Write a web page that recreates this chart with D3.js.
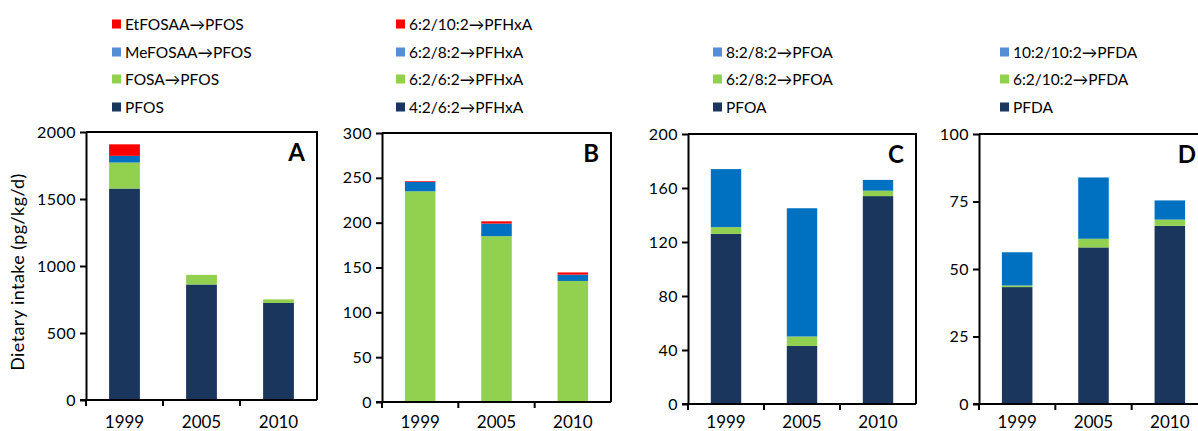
<!DOCTYPE html>
<html>
<head>
<meta charset="utf-8">
<script src="https://cdn.jsdelivr.net/npm/d3@7"></script>
<style>
  body { margin: 0; background: #fff; }
  text { font-family: Lato, "Open Sans", sans-serif; fill: #000; }
  .tick text { font-size: 16px; letter-spacing: 0.5px; }
  .axis path, .axis line { stroke: #000; stroke-width: 2px; }
</style>
</head>
<body>
<script>
// data
const years = ["1999", "2005", "2010"];

// panel A (bottom of stack first)
const seriesA = ["PFOS", "FOSA\u2192PFOS", "MeFOSAA\u2192PFOS", "EtFOSAA\u2192PFOS"];
const valuesA = [
  [1578, 862, 724],
  [194, 72, 27],
  [50, 0, 0],
  [86, 0, 0]
];

// panel B
const seriesB = ["4:2/6:2\u2192PFHxA", "6:2/6:2\u2192PFHxA", "6:2/8:2\u2192PFHxA", "6:2/10:2\u2192PFHxA"];
const valuesB = [
  [0, 0, 0],
  [235, 185, 135],
  [10.5, 14, 7],
  [0.8, 2.5, 2.5]
];

// panel C
const seriesC = ["PFOA", "6:2/8:2\u2192PFOA", "8:2/8:2\u2192PFOA"];
const valuesC = [
  [126, 43, 154],
  [5, 7, 4],
  [43, 95, 8]
];

// panel D
const seriesD = ["PFDA", "6:2/10:2\u2192PFDA", "10:2/10:2\u2192PFDA"];
const valuesD = [
  [43.3, 58, 66],
  [0.6, 3.2, 2.3],
  [12.3, 22.7, 7.1]
];

const yMaxes = [2000, 300, 200, 100];
const yTicks = [
  [0, 500, 1000, 1500, 2000],
  [0, 50, 100, 150, 200, 250, 300],
  [0, 40, 80, 120, 160, 200],
  [0, 25, 50, 75, 100]
];
const letters = ["A", "B", "C", "D"];

const barColors = ["#1b365d", "#92d050", "#0070c0", "#ff0000"];
const legendColors = ["#1b365d", "#92d050", "#558ed5", "#ff0000"];

// layout of the four panels
const panels = [
  {x: 86, w: 231, top: 132, bottom: 400, legX: 112},
  {x: 382, w: 229, top: 133, bottom: 402, legX: 396},
  {x: 688, w: 228, top: 134, bottom: 404, legX: 713},
  {x: 979, w: 229, top: 134, bottom: 404, legX: 1000}
];
const legendRows = [107, 79, 52, 24];
const yearBaseline = 428;

const allSeries = [seriesA, seriesB, seriesC, seriesD];
const allValues = [valuesA, valuesB, valuesC, valuesD];

const svg = d3.select("body").append("svg")
  .attr("width", 1198)
  .attr("height", 431);

panels.forEach(function (p, i) {
  const series = allSeries[i];
  const values = allValues[i];
  const h = p.bottom - p.top;

  const x = d3.scaleBand().domain(years).range([0, p.w]).paddingInner(0.6).paddingOuter(0.3);
  const y = d3.scaleLinear().domain([0, yMaxes[i]]).range([h, 0]);

  const g = svg.append("g").attr("transform", "translate(" + p.x + "," + p.top + ")");

  // stacked data
  const rows = years.map(function (yr, j) {
    const r = {year: yr};
    series.forEach(function (s, k) { r[s] = values[k][j]; });
    return r;
  });
  const stack = d3.stack().keys(series)(rows);

  g.selectAll(".layer")
    .data(stack)
    .enter().append("g")
    .attr("fill", function (d, k) { return barColors[k]; })
    .selectAll("rect")
    .data(function (d) { return d; })
    .enter().append("rect")
    .attr("x", function (d) { return x(d.data.year); })
    .attr("y", function (d) { return y(d[1]); })
    .attr("width", x.bandwidth())
    .attr("height", function (d) { return Math.max(0, y(d[0]) - y(d[1])); });

  // frame: top and right
  g.append("path")
    .attr("d", "M0,0H" + p.w + "V" + h)
    .attr("fill", "none")
    .attr("stroke", "#000")
    .attr("stroke-width", 2);

  // y axis
  g.append("g")
    .attr("class", "axis")
    .call(d3.axisLeft(y).tickValues(yTicks[i]).tickFormat(d3.format("d"))
      .tickSize(6).tickSizeOuter(0).tickPadding(4));

  // x axis with ticks between categories
  const xAxis = g.append("g")
    .attr("class", "axis")
    .attr("transform", "translate(0," + h + ")");
  xAxis.append("line")
    .attr("x1", -6).attr("x2", p.w);
  xAxis.selectAll(".sep")
    .data(d3.range(3))
    .enter().append("line")
    .attr("x1", function (d) { return d * p.w / 3; })
    .attr("x2", function (d) { return d * p.w / 3; })
    .attr("y1", 0).attr("y2", 6);
  xAxis.selectAll(".lbl")
    .data(years)
    .enter().append("text")
    .attr("x", function (d) { return x(d) + x.bandwidth() / 2; })
    .attr("y", yearBaseline - p.bottom)
    .attr("text-anchor", "middle")
    .style("font-size", "17px")
    .text(function (d) { return d; });

  // panel letter
  g.append("text")
    .attr("x", p.w - 12)
    .attr("y", 29)
    .attr("text-anchor", "end")
    .style("font-size", "24px")
    .style("font-weight", "bold")
    .text(letters[i]);

  // legend (top of stack first)
  const leg = svg.append("g");
  series.forEach(function (s, k) {
    const ly = legendRows[k];
    leg.append("rect")
      .attr("x", p.legX)
      .attr("y", ly - 4.5)
      .attr("width", 9)
      .attr("height", 9)
      .attr("fill", legendColors[k]);
    leg.append("text")
      .attr("x", p.legX + 13)
      .attr("y", ly + 5.5)
      .style("font-size", "15.5px")
      .text(s);
  });
});

// y axis title
svg.append("text")
  .attr("transform", "translate(24,272) rotate(-90)")
  .attr("text-anchor", "middle")
  .style("font-size", "18px")
  .style("letter-spacing", "0.4px")
  .text("Dietary intake (pg/kg/d)");
</script>
</body>
</html>
